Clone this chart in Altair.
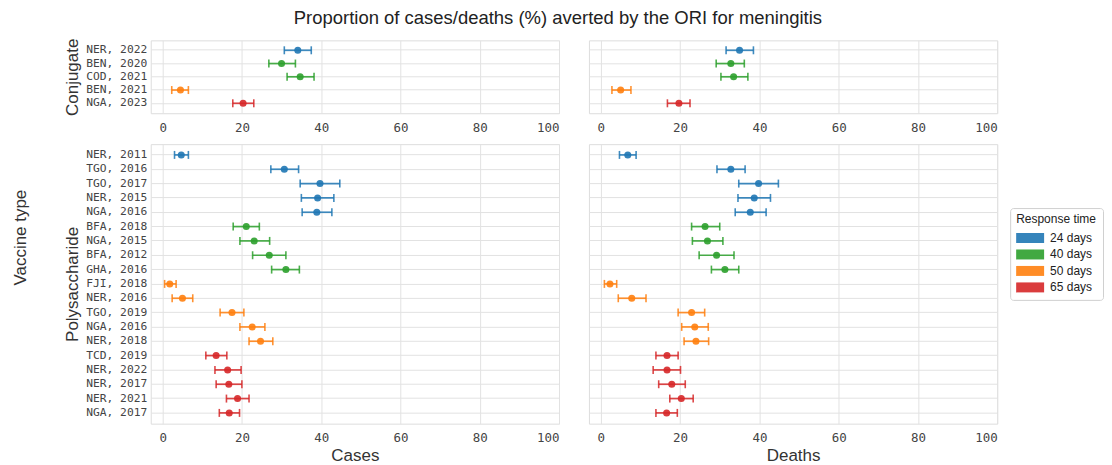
import altair as alt
import pandas as pd

resp_order = ["24 days", "40 days", "50 days", "65 days"]
resp_colors = ["#1f77b4", "#2ca02c", "#ff7f0e", "#d62728"]

conj_labels = ["NER, 2022", "BEN, 2020", "COD, 2021", "BEN, 2021", "NGA, 2023"]
conj_resp = ["24 days", "40 days", "40 days", "50 days", "65 days"]
conj_cases = [34.1, 30.0, 34.7, 4.5, 20.3]
conj_cases_lo = [30.7, 26.8, 31.4, 2.3, 17.7]
conj_cases_hi = [37.5, 33.5, 38.2, 6.5, 23.0]
conj_deaths = [35.0, 32.8, 33.5, 5.0, 19.7]
conj_deaths_lo = [31.6, 29.1, 30.3, 2.8, 16.8]
conj_deaths_hi = [38.5, 36.2, 37.1, 7.6, 22.5]

poly_labels = ["NER, 2011", "TGO, 2016", "TGO, 2017", "NER, 2015", "NGA, 2016 ",
               "BFA, 2018", "NGA, 2015", "BFA, 2012", "GHA, 2016", "FJI, 2018",
               "NER, 2016", "TGO, 2019", "NGA, 2016", "NER, 2018", "TCD, 2019",
               "NER, 2022", "NER, 2017", "NER, 2021", "NGA, 2017"]
poly_resp = ["24 days"] * 5 + ["40 days"] * 4 + ["50 days"] * 5 + ["65 days"] * 5
poly_cases = [4.7, 30.7, 39.7, 39.1, 38.9, 21.1, 23.1, 26.9, 31.1, 1.8,
              5.0, 17.5, 22.6, 24.7, 13.5, 16.4, 16.7, 18.9, 16.8]
poly_cases_lo = [3.0, 27.3, 34.7, 35.0, 35.2, 17.8, 19.5, 22.7, 27.5, 0.5,
                 2.4, 14.5, 19.5, 21.8, 10.9, 13.2, 13.5, 16.1, 14.3]
poly_cases_hi = [6.5, 34.3, 44.7, 43.2, 42.7, 24.4, 27.0, 31.1, 34.5, 3.4,
                 7.6, 20.5, 25.8, 27.8, 16.2, 19.8, 20.0, 21.8, 19.4]
poly_deaths = [6.8, 32.8, 39.8, 38.7, 37.7, 26.3, 26.9, 29.2, 31.3, 2.3,
               7.8, 22.9, 23.7, 24.0, 16.7, 16.7, 17.9, 20.3, 16.6]
poly_deaths_lo = [4.7, 29.3, 34.8, 34.6, 33.9, 22.9, 23.1, 24.8, 27.9, 0.9,
                  4.4, 19.5, 20.4, 21.0, 13.9, 13.2, 14.6, 17.4, 13.9]
poly_deaths_hi = [8.9, 36.4, 44.8, 42.8, 41.7, 30.0, 30.8, 33.6, 34.8, 4.0,
                  11.4, 26.2, 27.1, 27.2, 19.5, 20.1, 21.3, 23.3, 19.3]

x_ticks = [0, 20, 40, 60, 80, 100]

SANS = "Liberation Sans"
MONO = "DejaVu Sans Mono"
GRID = "#e2e2e2"

color_scale = alt.Scale(domain=resp_order, range=resp_colors)


def make_df(labels, resp, mid, lo, hi):
    return pd.DataFrame({"label": labels, "resp": resp, "mid": mid, "lo": lo, "hi": hi})


def panel(df, order, ytitle, show_y, xtitle, height):
    xscale = alt.Scale(domain=[-3, 100], nice=False, zero=False)
    xaxis = alt.Axis(values=x_ticks, title=xtitle, grid=True, ticks=False, domain=False,
                     labelFont=MONO, labelFontSize=12.5, labelColor="#444", labelPadding=8,
                     titleFont=SANS, titleFontSize=17, titleFontWeight="normal",
                     titleColor="#333", titlePadding=3, gridColor=GRID)
    if show_y:
        yaxis = alt.Axis(title=ytitle, grid=True, ticks=False, domain=False,
                         labelFont=MONO, labelFontSize=11.3, labelColor="#444", labelPadding=4,
                         titleFont=SANS, titleFontSize=17, titleFontWeight="normal",
                         titleColor="#333", titlePadding=4, gridColor=GRID)
    else:
        yaxis = alt.Axis(title=None, labels=False, grid=True, ticks=False, domain=False,
                         gridColor=GRID)
    y = alt.Y("label:N", sort=order, axis=yaxis, scale=alt.Scale(padding=0.5))
    color = alt.Color("resp:N", scale=color_scale, title="Response time",
                      legend=alt.Legend(orient="none", legendX=861, legendY=168,
                                        symbolType="M-1.4,-0.5H1.4V0.5H-1.4Z", symbolSize=400,
                                        symbolOpacity=0.9, symbolStrokeWidth=0,
                                        symbolOffset=4, labelOffset=10,
                                        labelFont=SANS, labelFontSize=12, labelColor="#222",
                                        titleFont=SANS, titleFontSize=12, titleFontWeight="normal",
                                        titleColor="#222", padding=6, strokeColor="#d0d0d0",
                                        cornerRadius=3, fillColor="white", rowPadding=0.5,
                                        titlePadding=2))
    base = alt.Chart(df)
    err = base.mark_errorbar(ticks={"size": 8, "thickness": 1.6}, rule={"strokeWidth": 1.7},
                             opacity=0.85).encode(
        x=alt.X("lo:Q", scale=xscale, axis=xaxis),
        x2="hi:Q",
        y=y,
        color=color,
    )
    pts = base.mark_circle(size=50, opacity=0.9).encode(
        x=alt.X("mid:Q", scale=xscale, axis=xaxis),
        y=y,
        color=color,
    )
    return alt.layer(err, pts).properties(width=409, height=height)


conj_c = make_df(conj_labels, conj_resp, conj_cases, conj_cases_lo, conj_cases_hi)
conj_d = make_df(conj_labels, conj_resp, conj_deaths, conj_deaths_lo, conj_deaths_hi)
poly_c = make_df(poly_labels, poly_resp, poly_cases, poly_cases_lo, poly_cases_hi)
poly_d = make_df(poly_labels, poly_resp, poly_deaths, poly_deaths_lo, poly_deaths_hi)

row1 = alt.hconcat(
    panel(conj_c, conj_labels, "Conjugate", True, None, 73),
    panel(conj_d, conj_labels, None, False, None, 73),
    spacing=28,
)
row2 = alt.hconcat(
    panel(poly_c, poly_labels, "Polysaccharide", True, "Cases", 280),
    panel(poly_d, poly_labels, None, False, "Deaths", 280),
    spacing=28,
)

inner = alt.vconcat(row1, row2, spacing=9).properties(
    title=alt.TitleParams("Vaccine type", orient="left", anchor="middle", font=SANS,
                          fontSize=17, fontWeight="normal", color="#333", offset=33, dx=13)
)

chart = alt.vconcat(inner).properties(
    title=alt.TitleParams("Proportion of cases/deaths (%) averted by the ORI for meningitis",
                          font=SANS, fontSize=18.5, fontWeight="normal", color="#222",
                          anchor="middle", offset=10),
    padding={"left": 4, "top": 0, "right": 0, "bottom": 0},
).configure_view(stroke="#d0d0d0").configure(background="white")

chart.save("out.html", embed_options={"renderer": "svg", "actions": False})
